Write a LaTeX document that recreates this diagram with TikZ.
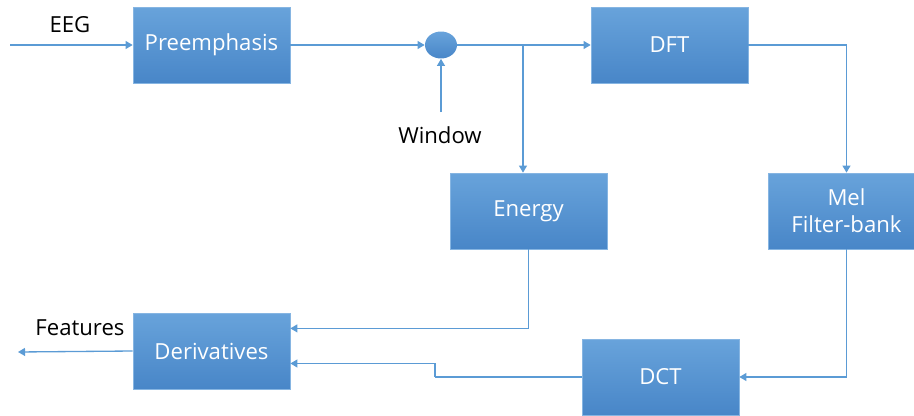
\documentclass[tikz,border=0pt]{standalone}
\usepackage{fontspec}
\setmainfont{Open Sans}
\usetikzlibrary{arrows.meta}
\usetikzlibrary{shapes.geometric}

\definecolor{boxtop}{HTML}{68A3DB}
\definecolor{boxbot}{HTML}{4886C8}
\definecolor{wire}{HTML}{5B9BD5}

\tikzset{
  blockbox/.style={rectangle, top color=boxtop, bottom color=boxbot, draw=boxtop!80!white, line width=0.4pt,
    minimum width=3.14cm, minimum height=1.52cm, text=white, align=center, font=\fontsize{12.6}{15.5}\selectfont},
  joint/.style={ellipse, top color=boxtop, bottom color=boxbot, draw=none, minimum width=0.64cm, minimum height=0.54cm, inner sep=0pt},
  conn/.style={draw=wire, line width=0.75pt, -{Triangle[width=4.5pt,length=4pt]}},
  plainline/.style={draw=wire, line width=0.75pt},
  tag/.style={font=\fontsize{12.6}{15.5}\selectfont, text=black}
}

\begin{document}
\begin{tikzpicture}[x=0.02cm, y=-0.02cm]
    \useasboundingbox (0,0) rectangle (914,416);
    % blocks
    \node[blockbox] (pre) at (211.5,45) {Preemphasis};
    \node[joint] (win) at (441,45) {};
    \node[blockbox] (dft) at (669.5,45) {DFT};
    \node[blockbox] (energy) at (528.5,211) {Energy};
    \node[blockbox] (mel) at (846.5,211) {Mel\\Filter-bank};
    \node[blockbox] (deriv) at (211.5,351) {Derivatives};
    \node[blockbox] (dct) at (660.5,377) {DCT};
    % labels
    \node[tag] (eeg) at (70,25) {EEG};
    \node[tag] (wintxt) at (440,135) {Window};
    \node[tag] (feat) at (80,328) {Features};
    % free ends
    \coordinate (in) at (10,45);
    \coordinate (winin) at (441,112);
    \coordinate (split) at (523,45);
    \coordinate (bend) at (435,377);
    \coordinate (out) at (18,352);
    % wires
    \draw[conn] (in) -- (pre.west);
    \draw[conn] (pre.east) -- (win.west);
    \draw[conn] (winin) -- (win.south);
    \draw[conn] (win.east) -- (dft.west);
    \draw[conn] (split) -- (split |- energy.north);
    \draw[conn] (dft.east) -| (mel.north);
    \draw[conn] (mel.south) |- (dct.east);
    \draw[conn] (energy.south) |- (deriv.16.3);
    \draw[plainline] (dct.west) -- (bend);
    \draw[conn] (bend) |- (deriv.-9.4);
    \draw[conn] (deriv.west) -- (out);
\end{tikzpicture}
\end{document}
